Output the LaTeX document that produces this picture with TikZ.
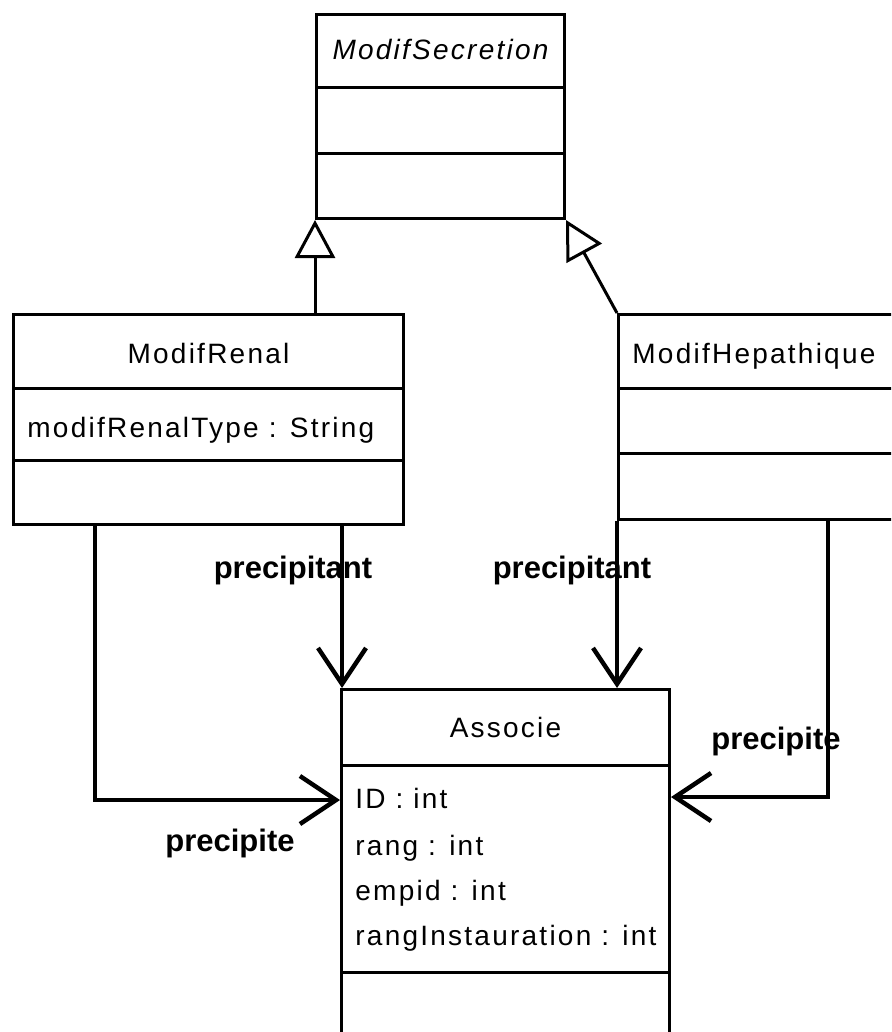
\documentclass[tikz,border=0pt]{standalone}
\usepackage{fontspec}
\newfontfamily\umlfont[LetterSpace=8]{Liberation Sans}
\newfontfamily\rolefont{Liberation Sans}
\usepackage{tikz}
\usetikzlibrary{positioning}
\usetikzlibrary{arrows.meta}
\usetikzlibrary{calc}
\tikzset{class node/.style={draw,fill=white,line width=1.5pt,inner sep=0pt,anchor=north west},}
\tikzset{title node/.style={font=\umlfont\fontsize{14}{17}\selectfont,inner sep=0pt,text height=10pt,text depth=0pt},}
\tikzset{attr node/.style={title node,anchor=west},}
\tikzset{role node/.style={font=\rolefont\fontsize{15.5}{18}\selectfont\bfseries,inner sep=0pt,text height=8pt,text depth=0pt},}

\begin{document}
\begin{tikzpicture}[x=0.5pt, y=-0.5pt,
    gen/.style={-{Triangle[open,length=19pt,width=20pt,fill=white]}, line width=1.5pt},
    assoc/.style={-{Straight Barb[length=18pt,width=24pt]}, line width=2.25pt},
    divider/.style={line width=1.5pt}]
	\path[use as bounding box, fill=white] (0,0) rectangle (891,1032);
	\clip (0,0) rectangle (891,1032);

	% classes
	\node[class node, minimum width=124pt, minimum height=102pt] (secr) at (315,13) {};
	\node[class node, minimum width=195pt, minimum height=105pt] (renal) at (12,313) {};
	\node[class node, minimum width=171.5pt, minimum height=102.5pt] (hep) at (617,313) {};
	\node[class node, minimum width=164pt, minimum height=206pt] (assoc) at (340,688) {};

	\draw[divider] ($(secr.north west)+(0,75)$) -- ($(secr.north east)+(0,75)$);
	\draw[divider] ($(secr.north west)+(0,141)$) -- ($(secr.north east)+(0,141)$);
	\draw[divider] ($(renal.north west)+(0,75)$) -- ($(renal.north east)+(0,75)$);
	\draw[divider] ($(renal.north west)+(0,147)$) -- ($(renal.north east)+(0,147)$);
	\draw[divider] ($(hep.north west)+(0,75)$) -- ($(hep.north east)+(0,75)$);
	\draw[divider] ($(hep.north west)+(0,140)$) -- ($(hep.north east)+(0,140)$);
	\draw[divider] ($(assoc.north west)+(0,77)$) -- ($(assoc.north east)+(0,77)$);
	\draw[divider] ($(assoc.north west)+(0,284)$) -- ($(assoc.north east)+(0,284)$);

	\node[title node] (secr title) at ($(secr.north)+(0,37)$) {\itshape ModifSecretion};
	\node[title node] (renal title) at ($(renal.north)+(0,40)$) {ModifRenal};
	\node[attr node] (renal type) at ($(renal.north west)+(15,114)$) {modifRenalType : String};
	\node[title node, anchor=west] (hep title) at ($(hep.north west)+(15,40)$) {ModifHepathique};
	\node[title node] (assoc title) at ($(assoc.north)+(0,39)$) {Associe};
	\foreach \txt/\dy [count=\i] in {ID : int/110, rang : int/157, empid : int/202, rangInstauration : int/247}
	    \node[attr node] (assoc attr \i) at ($(assoc.north west)+(15,\dy)$) {\txt};

	% inheritance
	\draw[gen] ($(renal.north west)+(303,0)$) -- (secr.south west);
	\draw[gen] (hep.north west) -- (secr.south east);

	% associations
	\draw[assoc] ($(renal.south west)+(330,0)$) -- ($(assoc.north west)+(2,0)$);
	\draw[assoc] ($(renal.south west)+(83,0)$) |- ($(assoc.north west)+(0,112)$);
	\draw[assoc] (hep.south west) -- ($(assoc.north west)+(277,0)$);
	\draw[assoc] ($(hep.south west)+(211,0)$) |- ($(assoc.north east)+(0,109)$);

	\node[role node] (renal role a) at (293,570) {precipitant};
	\node[role node] (renal role b) at (230,843) {precipite};
	\node[role node] (hep role a) at (572,570) {precipitant};
	\node[role node] (hep role b) at (776,741) {precipite};
\end{tikzpicture}
\end{document}
